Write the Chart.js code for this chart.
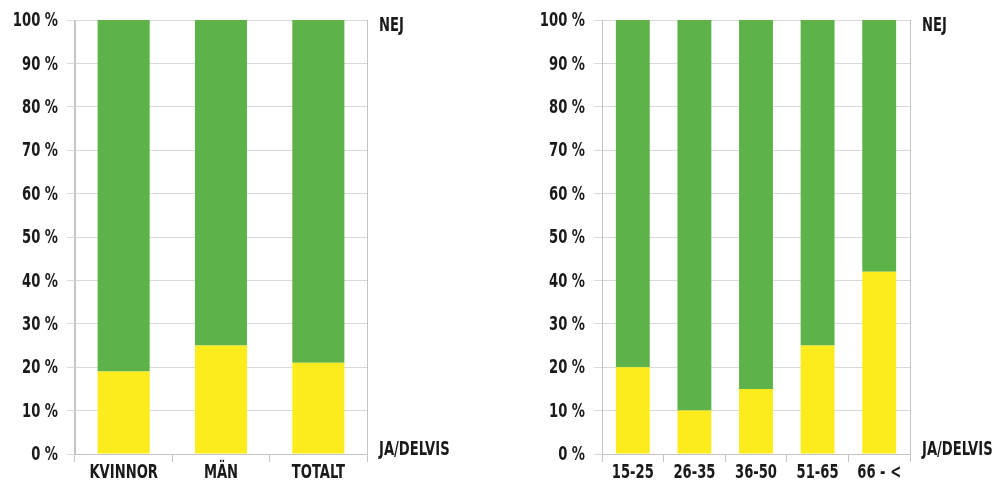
<!DOCTYPE html>
<html lang="sv">
<head>
  <meta charset="UTF-8" />
  <title>Ja/Delvis - Nej</title>
  <script src="https://cdn.jsdelivr.net/npm/chart.js"></script>
  <style>
    html, body { margin: 0; padding: 0; background: #fff; }
    .wrap { position: relative; width: 998px; height: 481px; }
    #vanster { position: absolute; left: 0; top: 0; }
    #hoger { position: absolute; left: 510px; top: 0; }
  </style>
</head>
<body>
  <div class="wrap">
    <canvas id="vanster" width="470" height="481"></canvas>
    <canvas id="hoger" width="488" height="481"></canvas>
  </div>

  <script>
    // Kön
    const konKategorier = ['KVINNOR', 'MÄN', 'TOTALT'];
    const konJa = [19, 25, 21];
    const konNej = [81, 75, 79];

    // Ålder
    const alderKategorier = ['15-25', '26-35', '36-50', '51-65', '66 - <'];
    const alderJa = [20, 10, 15, 25, 42];
    const alderNej = [80, 90, 85, 75, 58];

    const yTicks = [0, 10, 20, 30, 40, 50, 60, 70, 80, 90, 100];

    const GUL = '#fcec1e';
    const GRON = '#5db249';
    const FONT = "'DejaVu Sans Condensed', 'DejaVu Sans', sans-serif";
    const TEXT = '#1a1a1a';
    const SX = 0.73; // smal text, som i originalet

    function smalText(ctx, text, x, y, align) {
      ctx.save();
      ctx.translate(x, y);
      ctx.scale(SX, 1);
      ctx.textAlign = align;
      ctx.fillText(text, 0, 0);
      ctx.restore();
    }

    // axeltexter + NEJ / JA/DELVIS ritas smalare än vad fonterna klarar
    const etiketter = {
      id: 'etiketter',
      afterDraw(chart) {
        const { ctx, chartArea, scales } = chart;
        ctx.save();
        ctx.fillStyle = TEXT;
        ctx.font = 'bold 20px ' + FONT;
        ctx.textBaseline = 'middle';

        scales.y.ticks.forEach(t => {
          smalText(ctx, t.value + ' %', chartArea.left - 17, scales.y.getPixelForValue(t.value) + 1, 'right');
        });
        chart.data.labels.forEach((lab, i) => {
          smalText(ctx, lab, scales.x.getPixelForValue(i), chartArea.bottom + 19, 'center');
        });

        const x = chartArea.right + 12;
        smalText(ctx, 'NEJ', x, scales.y.getPixelForValue(100) + 6, 'left');
        smalText(ctx, 'JA/DELVIS', x, scales.y.getPixelForValue(0) - 4, 'left');
        ctx.restore();
      }
    };

    function skapa(id, kategorier, ja, nej, yBredd, hogerPad, barPct) {
      const ctx = document.getElementById(id).getContext('2d');
      return new Chart(ctx, {
        type: 'bar',
        data: {
          labels: kategorier,
          datasets: [
            { label: 'JA/DELVIS', data: ja, backgroundColor: GUL },
            { label: 'NEJ', data: nej, backgroundColor: GRON }
          ]
        },
        options: {
          responsive: false,
          animation: false,
          categoryPercentage: 1,
          barPercentage: barPct,
          layout: { padding: { top: 20, right: hogerPad, bottom: 0, left: 0 } },
          plugins: {
            legend: { display: false },
            tooltip: { enabled: false }
          },
          scales: {
            x: {
              stacked: true,
              border: { color: '#c4c4c4', width: 1 },
              grid: {
                offset: true,
                color: c => (c.type === 'scale' || c.index === 0) ? '#c4c4c4' : 'rgba(0,0,0,0)',
                tickColor: '#c4c4c4',
                tickLength: 8
              },
              ticks: { display: false },
              afterFit: s => { s.height = 27; }
            },
            y: {
              stacked: true,
              min: 0,
              max: 100,
              border: { color: '#c4c4c4', width: 1 },
              grid: { color: '#d9d9d9', tickColor: '#d9d9d9', tickLength: 8 },
              afterBuildTicks: s => { s.ticks = yTicks.map(v => ({ value: v })); },
              ticks: { display: false },
              afterFit: s => { s.width = yBredd; }
            }
          }
        },
        plugins: [etiketter]
      });
    }

    skapa('vanster', konKategorier, konJa, konNej, 75, 103, 0.535);
    skapa('hoger', alderKategorier, alderJa, alderNej, 92, 88, 0.55);
  </script>
</body>
</html>
